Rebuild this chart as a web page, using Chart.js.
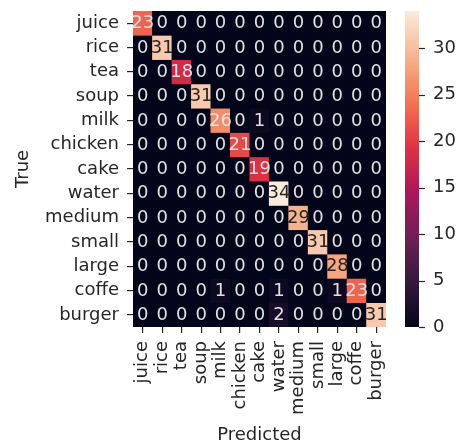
<!DOCTYPE html>
<html><head><meta charset="utf-8">
<script src="https://cdn.jsdelivr.net/npm/chart.js@4.4.0/dist/chart.umd.min.js"></script>
<style>html,body{margin:0;padding:0;background:#fff;} #wrap{width:462px;height:444px;}</style>
</head><body><div id="wrap"><canvas id="c" width="462" height="444"></canvas></div>
<script>
// ---- data ----
const predictedLabels = ['juice','rice','tea','soup','milk','chicken','cake','water','medium','small','large','coffe','burger'];
const trueLabels      = ['juice','rice','tea','soup','milk','chicken','cake','water','medium','small','large','coffe','burger'];
const rowJuice   = [23,0,0,0,0,0,0,0,0,0,0,0,0];
const rowRice    = [0,31,0,0,0,0,0,0,0,0,0,0,0];
const rowTea     = [0,0,18,0,0,0,0,0,0,0,0,0,0];
const rowSoup    = [0,0,0,31,0,0,0,0,0,0,0,0,0];
const rowMilk    = [0,0,0,0,26,0,1,0,0,0,0,0,0];
const rowChicken = [0,0,0,0,0,21,0,0,0,0,0,0,0];
const rowCake    = [0,0,0,0,0,0,19,0,0,0,0,0,0];
const rowWater   = [0,0,0,0,0,0,0,34,0,0,0,0,0];
const rowMedium  = [0,0,0,0,0,0,0,0,29,0,0,0,0];
const rowSmall   = [0,0,0,0,0,0,0,0,0,31,0,0,0];
const rowLarge   = [0,0,0,0,0,0,0,0,0,0,28,0,0];
const rowCoffe   = [0,0,0,0,1,0,0,1,0,0,1,23,0];
const rowBurger  = [0,0,0,0,0,0,0,2,0,0,0,0,31];
const rows = [rowJuice,rowRice,rowTea,rowSoup,rowMilk,rowChicken,rowCake,rowWater,rowMedium,rowSmall,rowLarge,rowCoffe,rowBurger];
const colorbarTicks = [0,5,10,15,20,25,30];
const vmin = 0, vmax = 34;

// ---- colormap (rocket) ----
const rocketStops = [
  [0.0,   [3,5,26]],
  [1/7,   [53,25,62]],
  [2/7,   [112,31,87]],
  [3/7,   [173,23,89]],
  [4/7,   [225,51,66]],
  [5/7,   [243,118,81]],
  [6/7,   [246,180,143]],
  [1.0,   [250,235,221]]
];
function rocket(t){
  t = Math.max(0, Math.min(1, t));
  for (let i=0;i<rocketStops.length-1;i++){
    const [a,ca]=rocketStops[i],[b,cb]=rocketStops[i+1];
    if (t<=b){
      const u=(t-a)/(b-a);
      return [0,1,2].map(k=>Math.round(ca[k]+(cb[k]-ca[k])*u));
    }
  }
  return rocketStops[rocketStops.length-1][1];
}
function rgbStr(c){return `rgb(${c[0]},${c[1]},${c[2]})`;}
function lum(c){
  const l=c.map(v=>{v/=255;return v<=0.03928?v/12.92:Math.pow((v+0.055)/1.055,2.4);});
  return 0.2126*l[0]+0.7152*l[1]+0.0722*l[2];
}
function colorFor(v){return rocket((v-vmin)/(vmax-vmin));}

const FONT = 'DejaVu Sans';
const FS = 18;
const TXT = '#262626';
Chart.defaults.font.family = FONT;
Chart.defaults.font.size = FS;
Chart.defaults.color = TXT;

const datasets = rows.map((row, r) => ({
  label: trueLabels[r],
  data: row.map(() => [r, r+1]),
  backgroundColor: row.map(v => rgbStr(colorFor(v))),
  borderWidth: 0,
  barPercentage: 1.0,
  categoryPercentage: 1.0,
  yAxisID: 'y',
  grouped: false
}));

function noPad(s){ s.paddingTop = 0; s.paddingBottom = 0; s.paddingLeft = 0; s.paddingRight = 0; }

const heatPlugin = {
  id: 'heat',
  beforeDatasetsDraw(chart){
    const {ctx, chartArea:a} = chart;
    ctx.save();
    ctx.fillStyle = rgbStr(colorFor(0));
    ctx.fillRect(a.left, a.top, a.right-a.left, a.bottom-a.top);
    ctx.restore();
  },
  afterDatasetsDraw(chart){
    const {ctx, scales} = chart;
    const xs = scales.x, ys = scales.y;
    ctx.save();
    ctx.font = `${FS}px "${FONT}"`;
    ctx.textAlign = 'center';
    ctx.textBaseline = 'middle';
    rows.forEach((row, r) => {
      row.forEach((v, c) => {
        const col = colorFor(v);
        ctx.fillStyle = lum(col) > 0.408 ? '#262626' : '#e0e0e0';
        ctx.fillText(String(v), xs.getPixelForValue(c), ys.getPixelForValue(r+0.5) + 0.5);
      });
    });
    ctx.restore();
  },
  afterDraw(chart){
    const {ctx} = chart;
    const cb = chart.scales.cb;
    const x0 = 405, x1 = 419;
    const yTop = cb.getPixelForValue(vmax), yBot = cb.getPixelForValue(vmin);
    const g = ctx.createLinearGradient(0, yBot, 0, yTop);
    for (let i=0;i<=40;i++){ g.addColorStop(i/40, rgbStr(rocket(i/40))); }
    ctx.save();
    ctx.fillStyle = g;
    ctx.fillRect(x0, yTop, x1-x0, yBot-yTop);
    ctx.strokeStyle = TXT;
    ctx.lineWidth = 1.2;
    colorbarTicks.forEach(t => {
      const y = Math.round(cb.getPixelForValue(t)) + 0.5;
      ctx.beginPath(); ctx.moveTo(x1, y); ctx.lineTo(x1+6, y); ctx.stroke();
    });
    ctx.restore();
  }
};

new Chart(document.getElementById('c'), {
  type: 'bar',
  data: { labels: predictedLabels, datasets },
  options: {
    responsive: false,
    animation: false,
    layout: { padding: { top: 11, left: 0, right: 0, bottom: 0 } },
    plugins: { legend: { display: false }, tooltip: { enabled: false } },
    scales: {
      x: {
        type: 'category',
        offset: true,
        grid: { offset: false, drawOnChartArea: false, drawTicks: true, tickLength: 6, color: TXT, lineWidth: 1.2 },
        border: { display: false },
        ticks: { autoSkip: false, minRotation: 90, maxRotation: 90, padding: 8, color: TXT, font: { size: FS } },
        title: { display: true, text: 'Predicted', color: TXT, font: { size: FS, lineHeight: 1 }, padding: { top: 0, bottom: 0 } },
        afterFit(s){ s.height = 117; noPad(s); }
      },
      y: {
        type: 'linear',
        min: 0, max: 13, reverse: true,
        position: 'left',
        grid: { drawOnChartArea: false, drawTicks: true, tickLength: 6, color: TXT, lineWidth: 1.2 },
        border: { display: false },
        afterBuildTicks(s){ s.ticks = trueLabels.map((_, i) => ({ value: i + 0.5 })); },
        ticks: { autoSkip: false, padding: 8, color: TXT, font: { size: FS },
          callback: (v) => trueLabels[Math.round(v - 0.5)] },
        title: { display: true, text: 'True', color: TXT, font: { size: FS, lineHeight: 1 }, padding: { top: 14, bottom: 0 } },
        afterFit(s){ s.width = 133; noPad(s); }
      },
      cb: {
        type: 'linear',
        position: 'right',
        min: vmin, max: vmax,
        grid: { display: false, drawTicks: false },
        border: { display: false },
        afterBuildTicks(s){ s.ticks = colorbarTicks.map(v => ({ value: v })); },
        ticks: { padding: 47, color: TXT, font: { size: FS } },
        afterFit(s){ s.width = 76; noPad(s); }
      }
    }
  },
  plugins: [heatPlugin]
});
</script>
</body></html>
